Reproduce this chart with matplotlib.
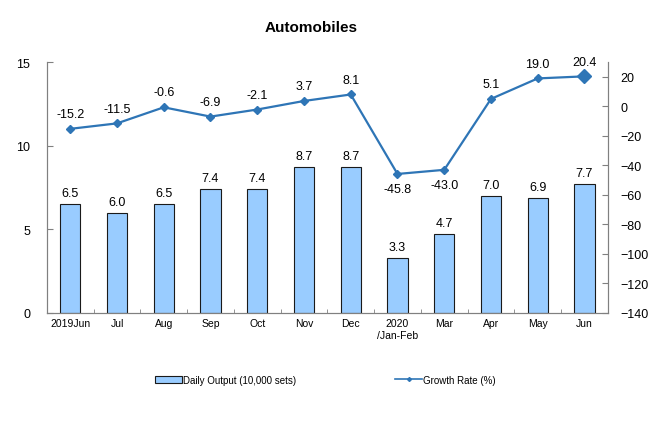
import matplotlib
matplotlib.use("Agg")
import matplotlib.pyplot as plt
from matplotlib.lines import Line2D
from matplotlib.patches import Patch
import numpy as np

plt.rcParams['font.family'] = ['Liberation Sans', 'DejaVu Sans']

categories = ["2019Jun", "Jul", "Aug", "Sep", "Oct", "Nov", "Dec", "2020\n/Jan-Feb", "Mar", "Apr", "May", "Jun"]
daily_output = [6.5, 6.0, 6.5, 7.4, 7.4, 8.7, 8.7, 3.3, 4.7, 7.0, 6.9, 7.7]
growth_rate = [-15.2, -11.5, -0.6, -6.9, -2.1, 3.7, 8.1, -45.8, -43.0, 5.1, 19.0, 20.4]

bar_color = "#99CCFF"
line_color = "#2E75B6"
spine_color = "#808080"

fig = plt.figure(figsize=(6.6, 4.27), dpi=100)
ax = fig.add_axes([0.071, 0.265, 0.850, 0.587])
x = np.arange(len(categories))

ax.bar(x, daily_output, width=0.43, color=bar_color, edgecolor="#1a1a1a", linewidth=0.8, zorder=2)
for xi, v in zip(x, daily_output):
    ax.text(xi, v + 0.3, f"{v:.1f}", ha="center", va="bottom", fontsize=9)

ax.set_xlim(-0.5, len(categories) - 0.5)
ax.set_ylim(0, 15)
ax.set_yticks([0, 5, 10, 15])
ax.set_xticks(x)
ax.set_xticklabels(categories, fontsize=7.5)
ax.set_xticks(np.arange(-0.5, len(categories), 1), minor=True)
ax.tick_params(axis='x', which='major', length=0, pad=4)
ax.tick_params(axis='x', which='minor', length=3, direction='in', color=spine_color)
ax.tick_params(axis='y', labelsize=9, length=4, direction='in', color=spine_color, pad=12)

ax2 = ax.twinx()
ax2.plot(x, growth_rate, color=line_color, linewidth=1.6, marker="D", markersize=4, zorder=3)
ax2.plot(x[-1], growth_rate[-1], marker="D", markersize=7.5, color=line_color, zorder=4)
below = {7, 8}
for i, (xi, v) in enumerate(zip(x, growth_rate)):
    if i in below:
        ax2.text(xi, v - 6, f"{v:.1f}", ha="center", va="top", fontsize=9)
    else:
        ax2.text(xi, v + 6, f"{v:.1f}", ha="center", va="bottom", fontsize=9)
ax2.set_ylim(-140, 30)
ax2.set_yticks(np.arange(-140, 21, 20))
ax2.tick_params(axis='y', labelsize=9, length=4, direction='in', color=spine_color, pad=9)

for a in (ax, ax2):
    a.spines['top'].set_visible(False)
    for s in ('left', 'right', 'bottom'):
        a.spines[s].set_color(spine_color)

fig.text(0.472, 0.935, "Automobiles", ha="center", va="center", fontsize=11, fontweight="bold")

h_bar = Patch(facecolor=bar_color, edgecolor="#1a1a1a", linewidth=0.8)
h_line = Line2D([], [], color=line_color, linewidth=1.2, marker="D", markersize=2)
leg1 = fig.legend([h_bar], ["Daily Output (10,000 sets)"], loc="center left",
                  bbox_to_anchor=(155 / 660, 0.108), frameon=False, fontsize=7,
                  borderpad=0, borderaxespad=0, handlelength=2.8, handleheight=0.8, handletextpad=0.1)
leg2 = fig.legend([h_line], ["Growth Rate (%)"], loc="center left",
                  bbox_to_anchor=(395 / 660, 0.108), frameon=False, fontsize=7,
                  borderpad=0, borderaxespad=0, handlelength=2.8, handletextpad=0.1)

fig.savefig("out.png", dpi=100)
